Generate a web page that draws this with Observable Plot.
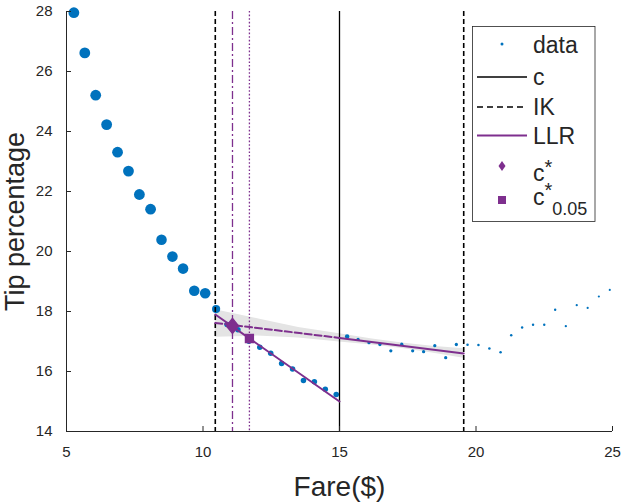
<!DOCTYPE html>
<html>
<head>
<meta charset="utf-8">
<script src="https://cdn.jsdelivr.net/npm/d3@7"></script>
<script src="https://cdn.jsdelivr.net/npm/@observablehq/plot@0.6"></script>
<style>
  html, body { margin: 0; padding: 0; background: #fff; }
  #wrap { position: relative; width: 625px; height: 503px; }
  #legend { position: absolute; left: 0; top: 0; pointer-events: none; }
</style>
</head>
<body>
<div id="wrap"></div>
<script>
// ---------- data ----------
const fare = [5.27,5.67,6.07,6.47,6.87,7.27,7.67,8.08,8.48,8.88,9.27,9.68,10.08,
  10.48,
  10.88,11.28,11.68,12.08,12.48,12.88,13.28,13.68,14.08,14.48,14.88,
  15.28,
  15.68,16.08,16.48,16.88,17.28,17.68,18.08,18.49,18.89,19.28,
  19.69,20.09,20.49,20.9,21.29,21.69,22.09,22.5,22.9,23.29,23.69,24.09,24.5,24.9];
const tip = [27.96,26.62,25.21,24.23,23.31,22.68,21.9,21.41,20.39,19.83,19.43,18.69,18.61,
  18.08,
  17.57,17.39,17.01,16.81,16.61,16.27,16.08,15.7,15.66,15.41,15.23,
  17.17,
  17.07,16.96,16.9,16.69,16.91,16.69,16.66,16.86,16.46,16.9,
  16.89,16.88,16.77,16.64,17.21,17.47,17.56,17.56,18.06,17.51,18.21,18.12,18.5,18.72];
const count = [1000,1000,1000,1000,1000,1000,1000,1000,960,960,960,960,960,
  570,
  260,260,260,260,260,260,260,260,260,260,260,
  172,
  91,91,91,91,91,91,91,91,91,91,
  55,55,55,55,52,52,50,50,48,46,44,42,40,38];

const cutoff = 15;                 // c
const ikBounds = [10.45, 19.55];   // IK bandwidth window
const cStar = 11.08, cStarY = 17.52;
const c05 = 11.7, c05Y = 17.1;

const llrLeftX = [10.45, 15], llrLeftY = [17.9, 15.0];
const llrRightX = [15, 19.55], llrRightY = [17.12, 16.6];
const extrapX = [10.45, 15], extrapY = [17.62, 17.12];

const bandX  = [10.45, 12, 13.5, 15, 16.2, 17.3, 18.4, 19.55];
const bandLo = [17.14, 17.18, 17.12, 16.98, 16.88, 16.77, 16.62, 16.44];
const bandHi = [18.06, 17.76, 17.47, 17.26, 17.08, 16.95, 16.84, 16.76];

const xTicks = [5, 10, 15, 20, 25];
const yTicks = [14, 16, 18, 20, 22, 24, 26, 28];
const xDomain = [5, 25], yDomain = [14, 28];

const legendLabels = ["data", "c", "IK", "LLR", "c*", "c*0.05"];

// ---------- chart ----------
const W = 625, H = 503, mL = 66, mR = 13, mT = 11, mB = 72;
const blue = "#0072BD", purple = "#7E2F8E", ink = "#262626";

const pts = fare.map((f, i) => ({fare: f, tip: tip[i], n: count[i]}));
const seg = (xs, ys) => xs.map((x, i) => ({x, y: ys[i]}));
const band = bandX.map((x, i) => ({x, lo: bandLo[i], hi: bandHi[i]}));

const diamond = {
  draw(ctx, size) {
    const r = Math.sqrt(size / Math.PI), hx = r, hy = r * 1.25;
    ctx.moveTo(0, -hy); ctx.lineTo(hx, 0); ctx.lineTo(0, hy); ctx.lineTo(-hx, 0); ctx.closePath();
  }
};

const chart = Plot.plot({
  width: W, height: H,
  marginLeft: mL, marginRight: mR, marginTop: mT, marginBottom: mB,
  style: {fontFamily: "'Liberation Sans', Arial, sans-serif", color: ink, background: "white", overflow: "visible"},
  x: {domain: xDomain},
  y: {domain: yDomain},
  r: {type: "sqrt", domain: [0, 1000], range: [0, 5.4]},
  marks: [
    Plot.areaY(band, {x: "x", y1: "lo", y2: "hi", fill: "#e4e4e4"}),
    Plot.dot(pts, {x: "fare", y: "tip", r: "n", fill: blue, stroke: "none"}),
    Plot.ruleX([cutoff], {stroke: "black", strokeWidth: 1.3}),
    Plot.ruleX(ikBounds, {stroke: "black", strokeWidth: 1.6, strokeDasharray: "5,3"}),
    Plot.ruleX([cStar], {stroke: purple, strokeWidth: 1.3, strokeDasharray: "8,3,2,3"}),
    Plot.ruleX([c05], {stroke: purple, strokeWidth: 1.3, strokeDasharray: "1.6,2"}),
    Plot.line(seg(extrapX, extrapY), {x: "x", y: "y", stroke: purple, strokeWidth: 2, strokeDasharray: "7,3"}),
    Plot.line(seg(llrLeftX, llrLeftY), {x: "x", y: "y", stroke: purple, strokeWidth: 2}),
    Plot.line(seg(llrRightX, llrRightY), {x: "x", y: "y", stroke: purple, strokeWidth: 2}),
    Plot.dot([{x: cStar, y: cStarY}], {x: "x", y: "y", r: 6, symbol: diamond, fill: purple, stroke: purple}),
    Plot.dot([{x: c05, y: c05Y}], {x: "x", y: "y", r: 4.4, symbol: "square", fill: purple, stroke: purple}),
    // axes (MATLAB style: inward ticks, left + bottom lines only)
    Plot.ruleY([yDomain[0]], {stroke: ink, strokeWidth: 1}),
    Plot.ruleX([xDomain[0]], {stroke: ink, strokeWidth: 1}),
    Plot.tickX(xTicks, {x: d => d, stroke: ink, insetTop: (H - mT - mB) - 5}),
    Plot.tickY(yTicks, {y: d => d, stroke: ink, insetRight: (W - mL - mR) - 5}),
    Plot.axisX({ticks: xTicks, tickSize: 0, tickPadding: 15, fontSize: 15, label: null}),
    Plot.axisY({ticks: yTicks, tickSize: 0, tickPadding: 14, fontSize: 15, label: null}),
    Plot.text(["Fare($)"], {frameAnchor: "bottom", dy: 56, fontSize: 28, lineAnchor: "middle", textAnchor: "middle", fill: ink}),
    Plot.text(["Tip percentage"], {frameAnchor: "left", dx: -51, rotate: -90, fontSize: 27, lineAnchor: "middle", textAnchor: "middle", fill: ink})
  ]
});

const wrap = document.getElementById("wrap");
wrap.appendChild(chart);

// ---------- legend (overlay inside plot area) ----------
const svg = d3.select(wrap).append("svg").attr("id", "legend")
  .attr("width", W).attr("height", H)
  .style("font-family", "'Liberation Sans', Arial, sans-serif");
svg.append("rect").attr("x", 472.5).attr("y", 26.5).attr("width", 122.5).attr("height", 195)
  .attr("fill", "white").attr("stroke", ink).attr("stroke-width", 0.8);

const sx0 = 477, sx1 = 527, mx = 502, tx = 533;
const rowY = [44, 77, 107, 135.5, 166, 200];
const fs = 23;

// data
svg.append("circle").attr("cx", mx).attr("cy", rowY[0]).attr("r", 1.5).attr("fill", blue);
// c
svg.append("line").attr("x1", sx0).attr("x2", sx1).attr("y1", rowY[1]).attr("y2", rowY[1])
  .attr("stroke", "black").attr("stroke-width", 1.3);
// IK
svg.append("line").attr("x1", sx0).attr("x2", sx1).attr("y1", rowY[2]).attr("y2", rowY[2])
  .attr("stroke", "black").attr("stroke-width", 1.4).attr("stroke-dasharray", "6,4");
// LLR
svg.append("line").attr("x1", sx0).attr("x2", sx1).attr("y1", rowY[3]).attr("y2", rowY[3])
  .attr("stroke", purple).attr("stroke-width", 2);
// c*
svg.append("path").attr("d", `M${mx},${rowY[4]-5}L${mx+3.5},${rowY[4]}L${mx},${rowY[4]+5}L${mx-3.5},${rowY[4]}Z`)
  .attr("fill", purple);
// c*0.05
svg.append("rect").attr("x", mx - 4).attr("y", rowY[5] - 4).attr("width", 8).attr("height", 8).attr("fill", purple);

const addText = (i, y) => svg.append("text").attr("x", tx).attr("y", y).attr("font-size", fs).attr("fill", ink);
addText(0, rowY[0] + 9).text(legendLabels[0]);
addText(1, rowY[1] + 8).text(legendLabels[1]);
addText(2, rowY[2] + 8).text(legendLabels[2]);
addText(3, rowY[3] + 8.5).text(legendLabels[3]);
{
  const t = addText(4, rowY[4] + 15);
  t.append("tspan").text("c");
  t.append("tspan").attr("dy", -7).attr("font-size", 20).text("*");
}
{
  const t = addText(5, rowY[5] + 5);
  t.append("tspan").text("c");
  t.append("tspan").attr("dy", -8).attr("font-size", 20).text("*");
  t.append("tspan").attr("dy", 18).attr("font-size", 18).text("0.05");
}
</script>
</body>
</html>
